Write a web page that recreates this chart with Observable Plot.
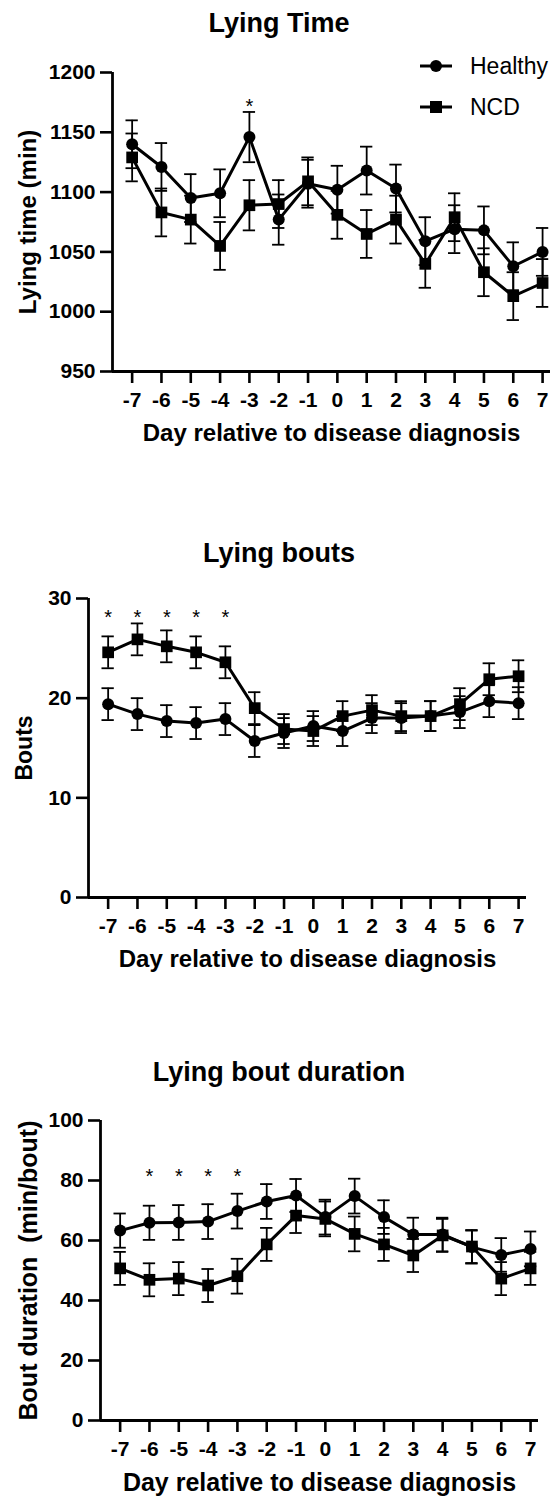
<!DOCTYPE html>
<html><head><meta charset="utf-8">
<script src="https://cdn.jsdelivr.net/npm/d3@7"></script>
<script src="https://cdn.jsdelivr.net/npm/@observablehq/plot@0.6"></script>
<style>
body{margin:0;background:#fff;font-family:"Liberation Sans",Arial,sans-serif;color:#000;}
#wrap{position:relative;width:558px;height:1498px;overflow:hidden;}
.title{position:absolute;left:0;width:558px;text-align:center;font-weight:bold;font-size:27px;line-height:27px;white-space:nowrap;}
.panel{position:absolute;left:0;}
#legend{position:absolute;left:0;top:0;}
</style></head><body><div id="wrap"></div>
<script>
// ---- data ----
const days = [-7,-6,-5,-4,-3,-2,-1,0,1,2,3,4,5,6,7];
const seriesNames = ["Healthy","NCD"];

const lyingHealthy   = [1140,1121,1095,1099,1146,1077,1107,1102,1118,1103,1059,1069,1068,1038,1050];
const lyingHealthySE = [20,20,20,20,21,21,20,20,20,20,20,20,20,20,20];
const lyingNCD       = [1129,1083,1077,1055,1089,1090,1109,1081,1065,1077,1040,1079,1033,1013,1024];
const lyingNCDSE     = [20,20,20,20,21,20,20,20,20,20,20,20,20,20,20];
const lyingStars     = [-3];
const lyingStarLevel = 1176;
const lyingTicks     = [950,1000,1050,1100,1150,1200];

const boutsHealthy   = [19.4,18.4,17.7,17.5,17.9,15.7,16.5,17.2,16.7,18.0,18.0,18.2,18.6,19.7,19.5];
const boutsHealthySE = [1.6,1.6,1.6,1.6,1.6,1.6,1.5,1.5,1.5,1.5,1.5,1.5,1.6,1.6,1.6];
const boutsNCD       = [24.6,25.9,25.2,24.6,23.6,19.0,16.9,16.7,18.2,18.8,18.2,18.2,19.4,21.9,22.2];
const boutsNCDSE     = [1.6,1.6,1.6,1.6,1.6,1.6,1.5,1.5,1.5,1.5,1.5,1.5,1.6,1.6,1.6];
const boutsStars     = [-7,-6,-5,-4,-3];
const boutsStarLevel = 28.6;
const boutsTicks     = [0,10,20,30];

const durHealthy   = [63.3,65.9,66.0,66.3,69.8,73.0,75.0,67.8,74.8,67.8,62.0,62.0,57.8,55.2,57.2];
const durHealthySE = [5.7,5.7,5.8,5.8,5.8,5.8,5.5,5.8,5.8,5.6,5.6,5.6,5.5,5.6,5.8];
const durNCD       = [50.7,46.9,47.3,45.0,48.1,58.7,68.3,67.2,62.2,58.7,55.0,61.7,58.0,47.3,50.7];
const durNCDSE     = [5.5,5.5,5.5,5.5,5.8,5.5,5.8,5.8,5.8,5.5,5.5,5.5,5.5,5.5,5.5];
const durStars     = [-6,-5,-4,-3];
const durStarLevel = 83;
const durTicks     = [0,20,40,60,80,100];

const xLabel = "Day relative to disease diagnosis";

// ---- panel configs (layout) ----
const panels = [
  {title:"Lying Time", titleTop:10, top:44, height:410, mt:28, mb:83, ml:112, mr:8,
   yDomain:[950,1200], yTicks:lyingTicks, yLabel:"Lying time (min)", yLabelDx:-84, yLabelSize:24, xLabelSize:24, xLabelDy:62,
   h:lyingHealthy, hse:lyingHealthySE, n:lyingNCD, nse:lyingNCDSE, stars:lyingStars, starLevel:lyingStarLevel},
  {title:"Lying bouts", titleTop:540, top:570, height:410, mt:28, mb:83, ml:88, mr:32,
   yDomain:[0,30], yTicks:boutsTicks, yLabel:"Bouts", yLabelDx:-64, yLabelSize:23, xLabelSize:24, xLabelDy:62,
   h:boutsHealthy, hse:boutsHealthySE, n:boutsNCD, nse:boutsNCDSE, stars:boutsStars, starLevel:boutsStarLevel},
  {title:"Lying bout duration", titleTop:1059, top:1092, height:406, mt:28, mb:78, ml:100, mr:20,
   yDomain:[0,100], yTicks:durTicks, yLabel:"Bout duration  (min/bout)", yLabelDx:-72, yLabelSize:25, xLabelSize:25, xLabelDy:62,
   h:durHealthy, hse:durHealthySE, n:durNCD, nse:durNCDSE, stars:durStars, starLevel:durStarLevel}
];

const xDomain = [-7.67, 7.27];
const wrap = document.getElementById("wrap");
const font = "'Liberation Sans', Arial, sans-serif";

for (const p of panels) {
  const rows = [];
  days.forEach((d,i) => {
    rows.push({day:d, group:seriesNames[0], v:p.h[i], se:p.hse[i]});
    rows.push({day:d, group:seriesNames[1], v:p.n[i], se:p.nse[i]});
  });
  const starRows = p.stars.map(d => ({day:d, y:p.starLevel}));

  const t = document.createElement("div");
  t.className = "title";
  t.style.top = p.titleTop + "px";
  t.textContent = p.title;
  wrap.appendChild(t);

  const chart = Plot.plot({
    width: 558, height: p.height,
    marginTop: p.mt, marginBottom: p.mb, marginLeft: p.ml, marginRight: p.mr,
    x: {domain: xDomain},
    y: {domain: p.yDomain},
    style: {fontFamily: font, color: "black", background: "white", overflow: "visible"},
    marks: [
      Plot.ruleX(rows, {x:"day", y1: d => d.v - d.se, y2: d => d.v + d.se, stroke:"black", strokeWidth:1.8}),
      Plot.ruleY(rows, {y: d => d.v + d.se, x1: d => d.day - 0.21, x2: d => d.day + 0.21, stroke:"black", strokeWidth:1.8}),
      Plot.ruleY(rows, {y: d => d.v - d.se, x1: d => d.day - 0.21, x2: d => d.day + 0.21, stroke:"black", strokeWidth:1.8}),
      Plot.line(rows, {x:"day", y:"v", z:"group", stroke:"black", strokeWidth:3}),
      Plot.dot(rows.filter(d => d.group === seriesNames[0]), {x:"day", y:"v", symbol:"circle", r:6, fill:"black", stroke:"none"}),
      Plot.dot(rows.filter(d => d.group === seriesNames[1]), {x:"day", y:"v", symbol:"square", r:6.6, fill:"black", stroke:"none"}),
      Plot.text(starRows, {x:"day", y:"y", text: () => "*", fontSize:20, dy:5, fill:"black"}),
      Plot.ruleY([p.yDomain[0]], {stroke:"black", strokeWidth:2.8}),
      Plot.ruleX([xDomain[0]], {stroke:"black", strokeWidth:2.8}),
      Plot.axisX({ticks: days, tickFormat: d => String(d), tickSize: 12, tickPadding: 9, strokeWidth: 2.6,
                  fontSize: 21, fontWeight: "bold", label: null}),
      Plot.axisY({ticks: p.yTicks, tickFormat: d => String(d), tickSize: 12, tickPadding: 5, strokeWidth: 2.6,
                  fontSize: 21, fontWeight: "bold", label: null}),
      Plot.text([xLabel], {frameAnchor:"bottom", lineAnchor:"middle", textAnchor:"middle", dy: p.xLabelDy, text: d => d,
                  fontSize: p.xLabelSize, fontWeight:"bold", fill:"black"}),
      Plot.text([p.yLabel], {frameAnchor:"left", textAnchor:"middle", lineAnchor:"middle", dx: p.yLabelDx, rotate: -90, text: d => d,
                  fontSize: p.yLabelSize, fontWeight:"bold", fill:"black"})
    ]
  });
  chart.classList.add("panel");
  chart.style.top = p.top + "px";
  chart.style.position = "absolute";
  wrap.appendChild(chart);
}

// ---- legend (panel 1) ----
const lg = d3.select(wrap).append("svg").attr("id","legend").attr("width",558).attr("height",140);
const legendItems = [
  {name: seriesNames[0], y: 66, symbol: d3.symbolCircle, size: Math.PI*36},
  {name: seriesNames[1], y: 107, symbol: d3.symbolSquare, size: 144}
];
for (const it of legendItems) {
  const g = lg.append("g");
  g.append("line").attr("x1",420).attr("x2",452).attr("y1",it.y).attr("y2",it.y).attr("stroke","black").attr("stroke-width",3);
  g.append("path").attr("d", d3.symbol(it.symbol, it.size)()).attr("transform",`translate(436,${it.y})`).attr("fill","black");
  g.append("text").attr("x",470).attr("y",it.y).attr("dominant-baseline","central")
    .attr("font-family",font).attr("font-size",23).text(it.name);
}
</script></body></html>
